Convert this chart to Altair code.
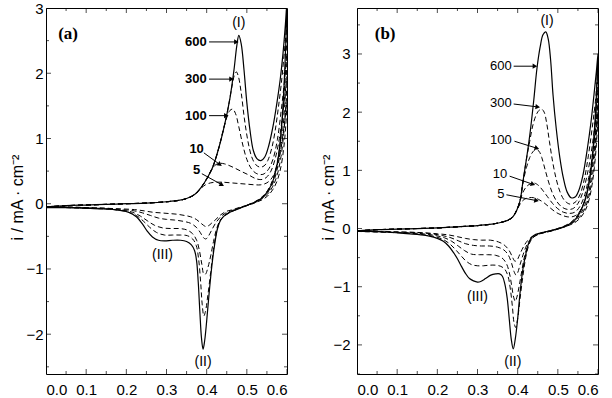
import math
import altair as alt
import pandas as pd

# Cyclic voltammograms: potential E (V) vs current density i (mA cm^-2)
# for five scan rates; two electrodes, (a) and (b).
RATES = ["600", "300", "100", "10", "5"]

# ---------------- panel (a) ----------------
A_600 = [(0.000,-0.05),(0.050,-0.03),(0.100,-0.02),(0.150,-0.01),(0.200,0.00),(0.250,0.01),(0.300,0.03),
         (0.330,0.05),(0.350,0.08),(0.370,0.14),(0.385,0.24),(0.400,0.38),(0.415,0.56),(0.430,0.85),
         (0.445,1.22),(0.458,1.62),(0.468,2.05),(0.475,2.42),(0.480,2.58),(0.486,2.45),(0.493,2.05),
         (0.500,1.55),(0.508,1.12),(0.516,0.82),(0.525,0.69),(0.535,0.66),(0.545,0.72),(0.555,0.90),
         (0.565,1.18),(0.575,1.55),(0.583,1.90),(0.590,2.30),(0.596,2.75),(0.600,3.10),
         (0.597,2.45),(0.593,1.85),(0.588,1.30),(0.582,0.88),(0.574,0.56),(0.565,0.35),(0.553,0.20),
         (0.540,0.10),(0.525,0.04),(0.510,0.00),(0.490,-0.05),(0.470,-0.10),(0.455,-0.14),(0.443,-0.19),
         (0.434,-0.26),(0.427,-0.38),(0.420,-0.62),(0.413,-0.95),(0.406,-1.38),(0.400,-1.80),(0.395,-2.10),
         (0.391,-2.23),(0.387,-2.05),(0.383,-1.65),(0.379,-1.20),(0.375,-0.88),(0.370,-0.72),(0.362,-0.63),
         (0.350,-0.58),(0.335,-0.56),(0.315,-0.56),(0.295,-0.57),(0.280,-0.56),(0.265,-0.51),(0.252,-0.42),
         (0.240,-0.31),(0.225,-0.20),(0.205,-0.13),(0.180,-0.10),(0.140,-0.08),(0.100,-0.07),(0.050,-0.06),
         (0.000,-0.06)]
A_300 = [(0.000,-0.05),(0.050,-0.03),(0.100,-0.02),(0.150,-0.01),(0.200,0.00),(0.250,0.01),(0.300,0.03),
         (0.330,0.05),(0.350,0.08),(0.370,0.14),(0.385,0.24),(0.400,0.38),(0.415,0.56),(0.430,0.85),
         (0.445,1.22),(0.455,1.52),(0.463,1.80),(0.469,1.97),(0.474,2.02),(0.479,1.95),(0.486,1.70),
         (0.494,1.30),(0.503,0.95),(0.512,0.72),(0.522,0.60),(0.533,0.56),(0.543,0.58),(0.552,0.66),
         (0.562,0.85),(0.570,1.10),(0.578,1.45),(0.586,1.85),(0.593,2.30),(0.600,2.75),
         (0.597,2.15),(0.592,1.60),(0.586,1.12),(0.579,0.75),(0.570,0.48),(0.560,0.30),(0.548,0.17),
         (0.535,0.09),(0.520,0.03),(0.505,-0.01),(0.488,-0.05),(0.470,-0.10),(0.455,-0.14),(0.443,-0.19),
         (0.433,-0.27),(0.425,-0.42),(0.417,-0.70),(0.410,-1.05),(0.403,-1.40),(0.397,-1.65),(0.393,-1.72),
         (0.389,-1.55),(0.385,-1.20),(0.380,-0.85),(0.374,-0.64),(0.365,-0.54),(0.352,-0.49),(0.335,-0.48),
         (0.315,-0.48),(0.295,-0.48),(0.275,-0.44),(0.258,-0.36),(0.243,-0.27),(0.225,-0.18),(0.200,-0.12),
         (0.170,-0.09),(0.130,-0.07),(0.080,-0.06),(0.000,-0.05)]
A_100 = [(0.000,-0.05),(0.050,-0.03),(0.100,-0.02),(0.150,-0.01),(0.200,0.00),(0.250,0.01),(0.300,0.03),
         (0.330,0.05),(0.350,0.08),(0.370,0.14),(0.385,0.24),(0.400,0.38),(0.415,0.56),(0.430,0.85),
         (0.440,1.10),(0.450,1.32),(0.458,1.43),(0.465,1.45),(0.472,1.38),(0.480,1.18),(0.490,0.90),
         (0.500,0.68),(0.512,0.53),(0.525,0.46),(0.540,0.45),(0.553,0.52),(0.565,0.68),(0.576,0.98),
         (0.586,1.45),(0.594,1.90),(0.600,2.30),
         (0.597,1.80),(0.592,1.30),(0.586,0.92),(0.578,0.60),(0.569,0.38),(0.558,0.23),(0.546,0.13),
         (0.533,0.07),(0.518,0.02),(0.502,-0.02),(0.485,-0.06),(0.468,-0.10),(0.455,-0.14),(0.443,-0.19),
         (0.433,-0.26),(0.425,-0.38),(0.417,-0.58),(0.410,-0.80),(0.403,-0.98),(0.397,-1.08),(0.393,-1.08),
         (0.388,-0.93),(0.382,-0.72),(0.375,-0.56),(0.365,-0.46),(0.350,-0.40),(0.330,-0.38),(0.310,-0.38),
         (0.290,-0.37),(0.270,-0.33),(0.252,-0.26),(0.235,-0.19),(0.215,-0.13),(0.190,-0.10),(0.150,-0.08),
         (0.100,-0.07),(0.050,-0.06),(0.000,-0.05)]
A_10 = [(0.000,-0.05),(0.050,-0.03),(0.100,-0.02),(0.150,-0.01),(0.200,0.00),(0.250,0.01),(0.300,0.03),
        (0.330,0.05),(0.350,0.08),(0.370,0.14),(0.385,0.24),(0.400,0.38),(0.412,0.52),(0.423,0.60),
        (0.433,0.62),(0.445,0.61),(0.458,0.58),(0.472,0.54),(0.488,0.49),(0.505,0.44),(0.520,0.39),
        (0.535,0.37),(0.548,0.40),(0.560,0.50),(0.571,0.70),(0.581,1.00),(0.589,1.35),(0.595,1.68),
        (0.600,1.95),
        (0.597,1.50),(0.592,1.08),(0.585,0.72),(0.576,0.45),(0.565,0.27),(0.552,0.15),(0.538,0.08),
        (0.522,0.02),(0.505,-0.02),(0.485,-0.06),(0.465,-0.10),(0.448,-0.14),(0.435,-0.20),(0.423,-0.29),
        (0.412,-0.41),(0.404,-0.50),(0.398,-0.54),(0.392,-0.52),(0.384,-0.44),(0.374,-0.36),(0.360,-0.30),
        (0.342,-0.27),(0.320,-0.25),(0.300,-0.24),(0.280,-0.22),(0.260,-0.18),(0.240,-0.14),(0.220,-0.11),
        (0.190,-0.09),(0.150,-0.07),(0.100,-0.06),(0.050,-0.05),(0.000,-0.05)]
A_5 = [(0.000,-0.05),(0.050,-0.03),(0.100,-0.02),(0.150,-0.01),(0.200,0.00),(0.250,0.01),(0.300,0.03),
       (0.330,0.05),(0.350,0.08),(0.370,0.14),(0.385,0.23),(0.397,0.29),(0.410,0.32),(0.425,0.33),
       (0.440,0.33),(0.460,0.32),(0.480,0.31),(0.500,0.30),(0.520,0.29),(0.535,0.29),(0.550,0.32),
       (0.563,0.40),(0.575,0.58),(0.585,0.85),(0.592,1.15),(0.597,1.42),(0.600,1.62),
       (0.597,1.20),(0.592,0.86),(0.585,0.57),(0.576,0.36),(0.565,0.22),(0.552,0.12),(0.538,0.06),
       (0.522,0.02),(0.505,-0.02),(0.485,-0.05),(0.465,-0.09),(0.448,-0.12),(0.435,-0.17),(0.423,-0.24),
       (0.412,-0.30),(0.404,-0.34),(0.398,-0.35),(0.392,-0.33),(0.384,-0.29),(0.374,-0.24),(0.360,-0.20),
       (0.345,-0.18),(0.325,-0.16),(0.305,-0.15),(0.285,-0.14),(0.265,-0.13),(0.245,-0.11),(0.220,-0.09),
       (0.190,-0.08),(0.150,-0.07),(0.100,-0.06),(0.050,-0.05),(0.000,-0.05)]

# ---------------- panel (b) ----------------
B_600 = [(0.000,-0.04),(0.050,-0.02),(0.100,-0.01),(0.150,0.00),(0.200,0.01),(0.250,0.03),(0.300,0.05),
         (0.330,0.07),(0.355,0.10),(0.375,0.14),(0.388,0.20),(0.398,0.32),(0.406,0.48),(0.413,0.80),
         (0.422,1.20),(0.431,1.65),(0.440,2.20),(0.448,2.75),(0.456,3.12),(0.463,3.33),(0.470,3.38),
         (0.476,3.26),(0.482,2.90),(0.488,2.30),(0.496,1.72),(0.505,1.22),(0.514,0.86),(0.523,0.63),
         (0.533,0.53),(0.543,0.54),(0.552,0.65),(0.562,0.90),(0.573,1.35),(0.582,1.80),(0.590,2.30),
         (0.596,2.70),(0.600,3.00),
         (0.597,2.45),(0.593,1.90),(0.588,1.40),(0.582,1.00),(0.575,0.68),(0.566,0.45),(0.556,0.29),
         (0.545,0.17),(0.532,0.09),(0.518,0.04),(0.500,0.00),(0.480,-0.04),(0.460,-0.07),(0.445,-0.10),
         (0.435,-0.15),(0.427,-0.26),(0.420,-0.45),(0.413,-0.70),(0.406,-1.10),(0.400,-1.55),(0.394,-1.90),
         (0.389,-2.07),(0.384,-1.90),(0.379,-1.55),(0.374,-1.20),(0.368,-0.95),(0.362,-0.82),(0.355,-0.78),
         (0.345,-0.78),(0.333,-0.80),(0.320,-0.86),(0.308,-0.91),(0.300,-0.92),(0.290,-0.90),(0.280,-0.86),
         (0.270,-0.77),(0.260,-0.65),(0.250,-0.52),(0.240,-0.41),(0.228,-0.30),(0.215,-0.22),(0.200,-0.17),
         (0.180,-0.13),(0.150,-0.10),(0.110,-0.08),(0.070,-0.06),(0.030,-0.05),(0.000,-0.05)]
B_300 = [(0.000,-0.04),(0.050,-0.02),(0.100,-0.01),(0.150,0.00),(0.200,0.01),(0.250,0.03),(0.300,0.05),
         (0.330,0.07),(0.355,0.10),(0.375,0.14),(0.388,0.20),(0.398,0.32),(0.406,0.48),(0.413,0.80),
         (0.422,1.20),(0.430,1.50),(0.438,1.78),(0.446,1.95),(0.453,2.03),(0.460,2.05),(0.466,2.00),
         (0.472,1.82),(0.479,1.50),(0.487,1.15),(0.496,0.85),(0.506,0.62),(0.517,0.48),(0.530,0.42),
         (0.543,0.45),(0.555,0.58),(0.566,0.85),(0.576,1.25),(0.585,1.70),(0.593,2.15),(0.600,2.70),
         (0.596,2.10),(0.591,1.60),(0.585,1.15),(0.578,0.80),(0.569,0.52),(0.558,0.33),(0.546,0.20),
         (0.533,0.11),(0.518,0.05),(0.500,0.00),(0.480,-0.04),(0.460,-0.08),(0.445,-0.12),(0.435,-0.18),
         (0.427,-0.30),(0.420,-0.50),(0.413,-0.82),(0.406,-1.20),(0.400,-1.55),(0.395,-1.70),(0.391,-1.62),
         (0.387,-1.35),(0.382,-1.05),(0.376,-0.82),(0.368,-0.70),(0.358,-0.65),(0.345,-0.63),(0.330,-0.63),
         (0.315,-0.64),(0.300,-0.64),(0.285,-0.62),(0.270,-0.55),(0.258,-0.46),(0.245,-0.36),(0.232,-0.27),
         (0.215,-0.19),(0.195,-0.14),(0.170,-0.11),(0.130,-0.08),(0.090,-0.07),(0.050,-0.06),(0.000,-0.05)]
B_100 = [(0.000,-0.04),(0.050,-0.02),(0.100,-0.01),(0.150,0.00),(0.200,0.01),(0.250,0.03),(0.300,0.05),
         (0.330,0.07),(0.355,0.10),(0.375,0.14),(0.388,0.20),(0.398,0.32),(0.406,0.48),(0.413,0.78),
         (0.422,1.05),(0.430,1.22),(0.438,1.32),(0.446,1.36),(0.453,1.33),(0.460,1.22),(0.468,1.02),
         (0.477,0.80),(0.487,0.60),(0.498,0.46),(0.510,0.37),(0.523,0.33),(0.537,0.34),(0.550,0.43),
         (0.562,0.62),(0.573,0.92),(0.583,1.30),(0.591,1.72),(0.600,2.40),
         (0.596,1.85),(0.591,1.38),(0.585,0.98),(0.578,0.66),(0.569,0.43),(0.558,0.27),(0.546,0.16),
         (0.533,0.09),(0.518,0.04),(0.500,-0.01),(0.480,-0.05),(0.460,-0.08),(0.445,-0.12),(0.435,-0.18),
         (0.426,-0.28),(0.418,-0.45),(0.411,-0.70),(0.404,-0.98),(0.398,-1.18),(0.394,-1.25),(0.390,-1.18),
         (0.385,-0.98),(0.379,-0.75),(0.371,-0.59),(0.360,-0.50),(0.345,-0.46),(0.325,-0.45),(0.305,-0.45),
         (0.285,-0.44),(0.268,-0.38),(0.252,-0.30),(0.236,-0.22),(0.218,-0.16),(0.195,-0.12),(0.165,-0.09),
         (0.120,-0.07),(0.070,-0.06),(0.000,-0.05)]
B_10 = [(0.000,-0.04),(0.050,-0.02),(0.100,-0.01),(0.150,0.00),(0.200,0.01),(0.250,0.03),(0.300,0.05),
        (0.330,0.07),(0.355,0.10),(0.375,0.14),(0.388,0.20),(0.398,0.32),(0.406,0.48),(0.413,0.62),
        (0.422,0.72),(0.432,0.77),(0.442,0.78),(0.452,0.74),(0.462,0.66),(0.474,0.55),(0.487,0.43),
        (0.500,0.34),(0.514,0.28),(0.528,0.26),(0.542,0.28),(0.555,0.38),(0.567,0.58),(0.577,0.88),
        (0.586,1.25),(0.593,1.65),(0.600,2.15),
        (0.596,1.60),(0.591,1.18),(0.585,0.84),(0.578,0.57),(0.569,0.37),(0.558,0.23),(0.546,0.14),
        (0.533,0.08),(0.518,0.03),(0.500,-0.01),(0.480,-0.05),(0.460,-0.08),(0.445,-0.12),(0.433,-0.18),
        (0.423,-0.28),(0.414,-0.44),(0.406,-0.62),(0.400,-0.76),(0.396,-0.80),(0.391,-0.74),(0.385,-0.60),
        (0.377,-0.46),(0.366,-0.37),(0.350,-0.32),(0.330,-0.30),(0.310,-0.30),(0.290,-0.29),(0.270,-0.26),
        (0.252,-0.21),(0.234,-0.16),(0.212,-0.12),(0.185,-0.09),(0.150,-0.07),(0.100,-0.06),(0.050,-0.05),
        (0.000,-0.05)]
B_5 = [(0.000,-0.04),(0.050,-0.02),(0.100,-0.01),(0.150,0.00),(0.200,0.01),(0.250,0.03),(0.300,0.05),
       (0.330,0.07),(0.355,0.10),(0.375,0.14),(0.388,0.20),(0.398,0.32),(0.406,0.42),(0.416,0.50),
       (0.428,0.53),(0.440,0.53),(0.452,0.50),(0.466,0.44),(0.480,0.36),(0.495,0.28),(0.510,0.23),
       (0.525,0.20),(0.540,0.21),(0.553,0.28),(0.565,0.45),(0.575,0.72),(0.584,1.05),(0.592,1.45),
       (0.600,1.95),
       (0.596,1.45),(0.591,1.05),(0.585,0.74),(0.578,0.50),(0.569,0.32),(0.558,0.20),(0.546,0.12),
       (0.533,0.07),(0.518,0.03),(0.500,-0.01),(0.480,-0.04),(0.460,-0.07),(0.445,-0.11),(0.432,-0.16),
       (0.421,-0.24),(0.411,-0.36),(0.403,-0.48),(0.398,-0.55),(0.393,-0.56),(0.387,-0.49),(0.379,-0.38),
       (0.368,-0.29),(0.352,-0.23),(0.332,-0.20),(0.310,-0.20),(0.290,-0.19),(0.270,-0.17),(0.250,-0.14),
       (0.228,-0.11),(0.200,-0.09),(0.160,-0.07),(0.110,-0.06),(0.050,-0.05),(0.000,-0.05)]

# Axis ticks
X_MAJOR = [0.0, 0.1, 0.2, 0.3, 0.4, 0.5, 0.6]
X_MINOR = [0.05, 0.15, 0.25, 0.35, 0.45, 0.55]
A_Y_MAJOR = [-2, -1, 0, 1, 2, 3]
A_Y_MINOR = [-2.5, -1.5, -0.5, 0.5, 1.5, 2.5]
B_Y_MAJOR = [-2, -1, 0, 1, 2, 3]
B_Y_MINOR = [-2.5, -1.5, -0.5, 0.5, 1.5, 2.5, 3.5]

# Scan-rate labels (mV/s) with arrows pointing at their curves
A_LABEL_E = [0.373, 0.373, 0.373, 0.375, 0.375]
A_LABEL_I = [2.48, 1.91, 1.35, 0.84, 0.52]
A_ARROW_E1 = [0.406, 0.406, 0.406, 0.393, 0.388]
A_ARROW_I1 = [2.48, 1.91, 1.35, 0.78, 0.46]
A_ARROW_E2 = [0.474, 0.462, 0.449, 0.433, 0.438]
A_ARROW_I2 = [2.48, 1.91, 1.35, 0.60, 0.29]

B_LABEL_E = [0.358, 0.358, 0.358, 0.356, 0.358]
B_LABEL_I = [2.79, 2.16, 1.53, 0.93, 0.59]
B_ARROW_E1 = [0.390, 0.390, 0.392, 0.380, 0.372]
B_ARROW_I1 = [2.79, 2.14, 1.50, 0.90, 0.58]
B_ARROW_E2 = [0.443, 0.450, 0.448, 0.438, 0.447]
B_ARROW_I2 = [2.79, 2.09, 1.38, 0.76, 0.48]

PEAKS = ["(I)", "(II)", "(III)"]
A_PEAK_E = [0.480, 0.391, 0.290]
A_PEAK_I = [2.77, -2.42, -0.79]
B_PEAK_E = [0.473, 0.388, 0.300]
B_PEAK_I = [3.57, -2.30, -1.17]

W, H = 241, 366
X_DOMAIN = [0.0, 0.6]
Y_TITLE = "i / mA \u00b7 cm\u207b\u00b2"
SANS = "Liberation Sans"


def curve_frame(curves):
    rows = []
    for rate, pts in zip(RATES, curves):
        for k, (e, i) in enumerate(pts):
            rows.append({"rate": rate, "seq": k, "E": e, "i": i})
    return pd.DataFrame(rows)


def panel(tag, tag_pos, curves, y_domain, y_major, y_minor,
          lab_e, lab_i, a_e1, a_i1, a_e2, a_i2, peak_e, peak_i,
          label_weight, y_label_pad, title_x):
    xs = alt.Scale(domain=X_DOMAIN, nice=False, zero=False)
    ys = alt.Scale(domain=y_domain, nice=False, zero=False)
    x_axis = alt.Axis(values=X_MAJOR, format=".1f", ticks=False, tickSize=0, domain=False,
                      grid=False, labelFontSize=15, labelPadding=8, title=None)
    y_axis = alt.Axis(values=y_major, format="d", ticks=False, tickSize=0, domain=False,
                      grid=False, labelFontSize=15, labelPadding=y_label_pad,
                      title=Y_TITLE, titleFontSize=16, titleFontWeight="normal",
                      titleAngle=270, titleX=title_x, titleY=H / 2 + 6,
                      titleBaseline="alphabetic", titleAlign="center")

    def X(field):
        return alt.X(field, scale=xs, axis=x_axis)

    def Y(field):
        return alt.Y(field, scale=ys, axis=y_axis)

    df = curve_frame(curves)
    base = alt.Chart(df).encode(x=X("E:Q"), y=Y("i:Q"), detail="rate:N", order="seq:Q")
    dashed = base.transform_filter(alt.datum.rate != "600").mark_line(
        clip=True, color="black", strokeWidth=1, strokeDash=[5, 3], interpolate="catmull-rom")
    solid = base.transform_filter(alt.datum.rate == "600").mark_line(
        clip=True, color="black", strokeWidth=1.2, interpolate="catmull-rom")

    # inward ticks on all four sides (half of each tick is clipped away)
    xt = pd.DataFrame({"v": X_MAJOR + X_MINOR,
                       "len": [10] * len(X_MAJOR) + [6] * len(X_MINOR)})
    yt = pd.DataFrame({"v": y_major + y_minor,
                       "len": [10] * len(y_major) + [6] * len(y_minor)})
    tick_layers = []
    for ypix in (0, H):
        tick_layers.append(alt.Chart(xt).mark_tick(clip=True, color="black", thickness=1,
                                                   orient="vertical").encode(
            x=X("v:Q"), y=alt.value(ypix), size=alt.Size("len:Q", scale=None)))
    for xpix in (0, W):
        tick_layers.append(alt.Chart(yt).mark_tick(clip=True, color="black", thickness=1,
                                                   orient="horizontal").encode(
            y=Y("v:Q"), x=alt.value(xpix), size=alt.Size("len:Q", scale=None)))

    # scan-rate labels with arrows
    sx = W / (X_DOMAIN[1] - X_DOMAIN[0])
    sy = H / (y_domain[1] - y_domain[0])
    angles = [math.degrees(math.atan2(-(y2 - y1) * sy, (x2 - x1) * sx)) % 360
              for x1, y1, x2, y2 in zip(a_e1, a_i1, a_e2, a_i2)]
    ann = pd.DataFrame({"rate": RATES, "le": lab_e, "li": lab_i,
                        "e1": a_e1, "i1": a_i1, "e2": a_e2, "i2": a_i2, "ang": angles})
    labels = alt.Chart(ann).mark_text(font=SANS, fontSize=13, fontWeight=label_weight,
                                      color="black", align="center", baseline="middle").encode(
        x=X("le:Q"), y=Y("li:Q"), text="rate:N")
    shafts = alt.Chart(ann).mark_rule(color="black", strokeWidth=1).encode(
        x=X("e1:Q"), y=Y("i1:Q"), x2="e2:Q", y2="i2:Q")
    heads = alt.Chart(ann).mark_point(shape="triangle-right", filled=True, color="black",
                                      size=28, opacity=1).encode(
        x=X("e2:Q"), y=Y("i2:Q"), angle=alt.Angle("ang:Q", scale=None))

    pk = pd.DataFrame({"t": PEAKS, "e": peak_e, "i": peak_i})
    peaks = alt.Chart(pk).mark_text(font=SANS, fontSize=14, color="black",
                                    align="center", baseline="middle").encode(
        x=X("e:Q"), y=Y("i:Q"), text="t:N")

    tg = pd.DataFrame({"t": [tag], "e": [tag_pos[0]], "i": [tag_pos[1]]})
    tag_text = alt.Chart(tg).mark_text(font="Liberation Serif", fontSize=17, fontWeight="bold",
                                       color="black", align="center", baseline="middle").encode(
        x=X("e:Q"), y=Y("i:Q"), text="t:N")

    return alt.layer(dashed, solid, *tick_layers, shafts, heads, labels, peaks, tag_text).properties(
        width=W, height=H)


chart_a = panel("(a)", (0.055, 2.60), [A_600, A_300, A_100, A_10, A_5], [-2.61, 3.0],
                A_Y_MAJOR, A_Y_MINOR, A_LABEL_E, A_LABEL_I, A_ARROW_E1, A_ARROW_I1,
                A_ARROW_E2, A_ARROW_I2, A_PEAK_E, A_PEAK_I, "bold", 3, -24)
chart_b = panel("(b)", (0.070, 3.34), [B_600, B_300, B_100, B_10, B_5], [-2.5, 3.79],
                B_Y_MAJOR, B_Y_MINOR, B_LABEL_E, B_LABEL_I, B_ARROW_E1, B_ARROW_I1,
                B_ARROW_E2, B_ARROW_I2, B_PEAK_E, B_PEAK_I, "normal", 7, -24)

chart = alt.HConcatChart(hconcat=[chart_a, chart_b], spacing=70, bounds="flush").properties(
    padding={"left": 8, "top": 0, "right": 3, "bottom": 2},
    background="white",
).configure_view(stroke="black", strokeWidth=1).configure_axis(
    labelFont=SANS, titleFont=SANS, labelColor="black", titleColor="black")

chart.save("out.html", embed_options={"renderer": "svg", "actions": False})
